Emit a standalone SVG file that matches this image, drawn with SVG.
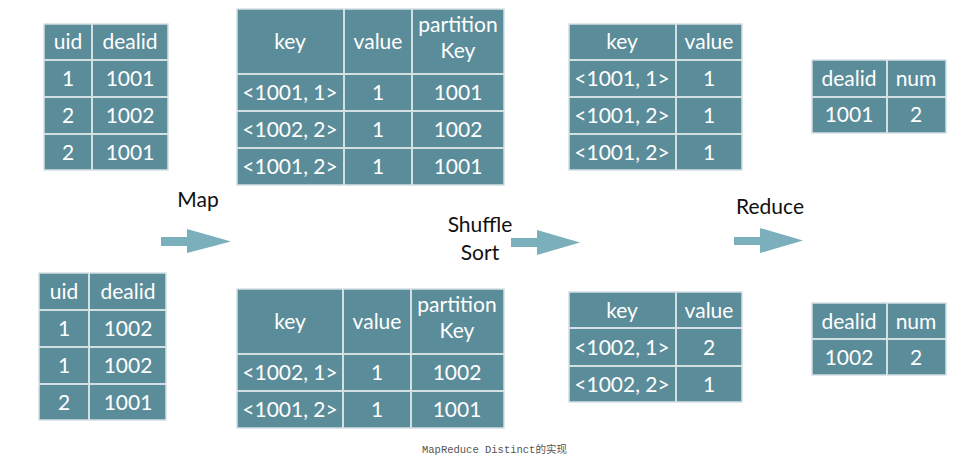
<svg xmlns="http://www.w3.org/2000/svg" width="962" height="464" viewBox="0 0 962 464">
<style>
.bg{fill:#5b8c99;stroke:#d3e0e3;stroke-width:1.5}
.ln{stroke:#d3e0e3;stroke-width:2;fill:none}
.t{font-family:Lato,"Open Sans",sans-serif;font-size:21px;fill:#ffffff;text-anchor:middle}
.lbl{font-family:Lato,"Open Sans",sans-serif;font-size:21px;fill:#111111;text-anchor:middle}
.arr{fill:#7aafbb}
.cap{font-family:"Liberation Mono","Noto Sans CJK SC",monospace;font-size:10.5px;fill:#555555}
</style>
<rect width="962" height="464" fill="#ffffff"/>

<g id="input1">
<rect class="bg" x="44" y="24" width="124" height="146"/>
<path class="ln" d="M92,24V170M44,60H168M44,97H168M44,134H168"/>
<text class="t" x="68" y="49">uid</text><text class="t" x="130" y="49">dealid</text>
<text class="t" x="68" y="86">1</text><text class="t" x="130" y="86">1001</text>
<text class="t" x="68" y="123">2</text><text class="t" x="130" y="123">1002</text>
<text class="t" x="68" y="160">2</text><text class="t" x="130" y="160">1001</text>
</g>

<g id="input2">
<rect class="bg" x="39" y="273" width="127" height="147"/>
<path class="ln" d="M89,273V420M39,310H166M39,347H166M39,384H166"/>
<text class="t" x="64" y="299">uid</text><text class="t" x="128" y="299">dealid</text>
<text class="t" x="64" y="336">1</text><text class="t" x="128" y="336">1002</text>
<text class="t" x="64" y="373">1</text><text class="t" x="128" y="373">1002</text>
<text class="t" x="64" y="410">2</text><text class="t" x="128" y="410">1001</text>
</g>

<g id="map1">
<rect class="bg" x="237" y="9" width="267" height="176"/>
<path class="ln" d="M344,9V185M412,9V185M237,74H504M237,111H504M237,148H504"/>
<text class="t" x="290" y="49">key</text><text class="t" x="378" y="49">value</text>
<text class="t" x="458" y="32">partition</text><text class="t" x="458" y="58">Key</text>
<text class="t" x="290" y="100">&lt;1001, 1&gt;</text><text class="t" x="378" y="100">1</text><text class="t" x="458" y="100">1001</text>
<text class="t" x="290" y="137">&lt;1002, 2&gt;</text><text class="t" x="378" y="137">1</text><text class="t" x="458" y="137">1002</text>
<text class="t" x="290" y="174">&lt;1001, 2&gt;</text><text class="t" x="378" y="174">1</text><text class="t" x="458" y="174">1001</text>
</g>

<g id="map2">
<rect class="bg" x="237" y="289" width="267" height="139"/>
<path class="ln" d="M343,289V428M411,289V428M237,354H504M237,391H504"/>
<text class="t" x="290" y="329">key</text><text class="t" x="377" y="329">value</text>
<text class="t" x="457" y="312">partition</text><text class="t" x="457" y="338">Key</text>
<text class="t" x="290" y="380">&lt;1002, 1&gt;</text><text class="t" x="377" y="380">1</text><text class="t" x="457" y="380">1002</text>
<text class="t" x="290" y="417">&lt;1001, 2&gt;</text><text class="t" x="377" y="417">1</text><text class="t" x="457" y="417">1001</text>
</g>

<g id="shuffle1">
<rect class="bg" x="569" y="24" width="173" height="146"/>
<path class="ln" d="M676,24V170M569,60H742M569,97H742M569,134H742"/>
<text class="t" x="622" y="49">key</text><text class="t" x="709" y="49">value</text>
<text class="t" x="622" y="86">&lt;1001, 1&gt;</text><text class="t" x="709" y="86">1</text>
<text class="t" x="622" y="123">&lt;1001, 2&gt;</text><text class="t" x="709" y="123">1</text>
<text class="t" x="622" y="160">&lt;1001, 2&gt;</text><text class="t" x="709" y="160">1</text>
</g>

<g id="shuffle2">
<rect class="bg" x="569" y="292" width="173" height="110"/>
<path class="ln" d="M676,292V402M569,328H742M569,366H742"/>
<text class="t" x="622" y="318">key</text><text class="t" x="709" y="318">value</text>
<text class="t" x="622" y="355">&lt;1002, 1&gt;</text><text class="t" x="709" y="355">2</text>
<text class="t" x="622" y="392">&lt;1002, 2&gt;</text><text class="t" x="709" y="392">1</text>
</g>

<g id="reduce1">
<rect class="bg" x="812" y="60" width="134" height="73"/>
<path class="ln" d="M887,60V133M812,97H946"/>
<text class="t" x="849" y="86">dealid</text><text class="t" x="916" y="86">num</text>
<text class="t" x="849" y="122">1001</text><text class="t" x="916" y="122">2</text>
</g>

<g id="reduce2">
<rect class="bg" x="812" y="303" width="134" height="72"/>
<path class="ln" d="M887,303V375M812,339H946"/>
<text class="t" x="849" y="329">dealid</text><text class="t" x="916" y="329">num</text>
<text class="t" x="849" y="365">1002</text><text class="t" x="916" y="365">2</text>
</g>

<g id="connectors">
<path class="arr" d="M161,237H187V229L231,241.5L187,253V246H161Z"/>
<path class="arr" d="M511,238H537V230L580,242.5L537,255V247H511Z"/>
<path class="arr" d="M734,237H760V228L803,240.5L760,253V245H734Z"/>
<text class="lbl" x="198" y="207">Map</text>
<text class="lbl" x="480" y="232">Shuffle</text>
<text class="lbl" x="480" y="260">Sort</text>
<text class="lbl" x="770" y="214">Reduce</text>
</g>

<text class="cap" x="422" y="453">MapReduce Distinct的实现</text>
</svg>
